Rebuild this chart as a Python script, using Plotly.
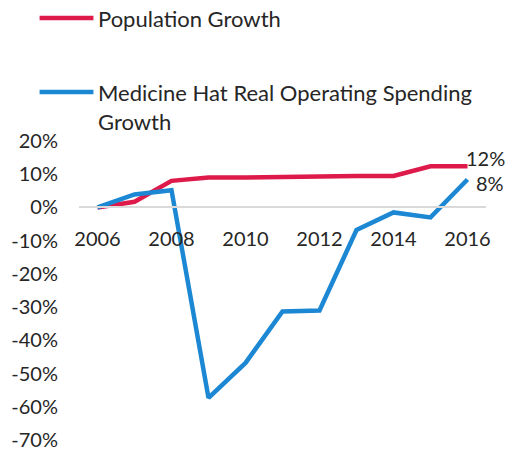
import plotly.graph_objects as go

years = [2006, 2007, 2008, 2009, 2010, 2011, 2012, 2013, 2014, 2015, 2016]
population_growth = [0.0, 1.7, 8.0, 9.0, 9.0, 9.2, 9.5, 9.5, 9.5, 12.4, 12.4]
spending_growth = [0.0, 3.9, 5.2, -57.3, -46.8, -31.3, -31.0, -6.8, -1.5, -3.0, 8.4]
series_names = ["Population Growth", "Medicine Hat Real Operating Spending<br>Growth"]
y_ticks = [-70, -60, -50, -40, -30, -20, -10, 0, 10, 20]
x_ticks = [2006, 2008, 2010, 2012, 2014, 2016]

RED = "#DE1A4A"
BLUE = "#1C88D4"
TXT = "#262626"
FONT = "Lato"

W, H = 508, 453
L, R, T, B = 78.5, 486.5, 141, 440


def px(x):
    return (x - L) / (R - L)


def py(y):
    return (B - y) / (B - T)


fig = go.Figure()
fig.add_trace(go.Scatter(x=years, y=population_growth, mode="lines",
                         line=dict(color=RED, width=4.5), name="Population Growth",
                         showlegend=False))
fig.add_trace(go.Scatter(x=years, y=spending_growth, mode="lines",
                         line=dict(color=BLUE, width=4.5),
                         name="Medicine Hat Real Operating Spending Growth",
                         showlegend=False))

# end-point data labels
fig.add_annotation(x=years[-1], y=population_growth[-1], text=f"{int(population_growth[-1])}%",
                   showarrow=False, xanchor="left", yanchor="middle", xshift=-4, yshift=8,
                   font=dict(family=FONT, size=20, color=TXT))
fig.add_annotation(x=years[-1], y=spending_growth[-1], text=f"{int(spending_growth[-1])}%",
                   showarrow=False, xanchor="left", yanchor="middle", xshift=6, yshift=-3,
                   font=dict(family=FONT, size=20, color=TXT))

# legend (drawn manually to match the original layout)
for color, ly in [(RED, 18), (BLUE, 92)]:
    fig.add_shape(type="line", xref="paper", yref="paper",
                  x0=px(39), x1=px(93), y0=py(ly), y1=py(ly),
                  line=dict(color=color, width=4.5))
fig.add_annotation(xref="paper", yref="paper", x=px(96), y=py(18), text=series_names[0],
                   showarrow=False, xanchor="left", yanchor="middle", align="left",
                   font=dict(family=FONT, size=22, color=TXT))
fig.add_annotation(xref="paper", yref="paper", x=px(96), y=py(77), text=series_names[1],
                   showarrow=False, xanchor="left", yanchor="top", align="left",
                   font=dict(family=FONT, size=22, color=TXT))

fig.update_layout(
    width=W, height=H,
    margin=dict(l=L, r=W - R, t=T, b=H - B, autoexpand=False),
    plot_bgcolor="white", paper_bgcolor="white",
    font=dict(family=FONT, size=20, color=TXT),
    showlegend=False,
    xaxis=dict(range=[2005.5, 2016.5], tickvals=x_ticks, ticktext=[str(v) for v in x_ticks],
               anchor="free", position=70 / 90, showline=True, linecolor="#D9D9D9",
               linewidth=1.5, showgrid=False, zeroline=False, ticks="", automargin=False,
               ticklabelstandoff=14, tickfont=dict(family=FONT, size=20, color=TXT)),
    yaxis=dict(range=[-70, 20], tickvals=y_ticks, ticktext=[f"{v}%" for v in y_ticks],
               showgrid=False, zeroline=False, showline=False, ticks="", automargin=False,
               ticklabelstandoff=20, tickfont=dict(family=FONT, size=20, color=TXT)),
)

fig.write_html("out.html", config={"displayModeBar": False},
               post_script="document.body.style.margin='0';")
